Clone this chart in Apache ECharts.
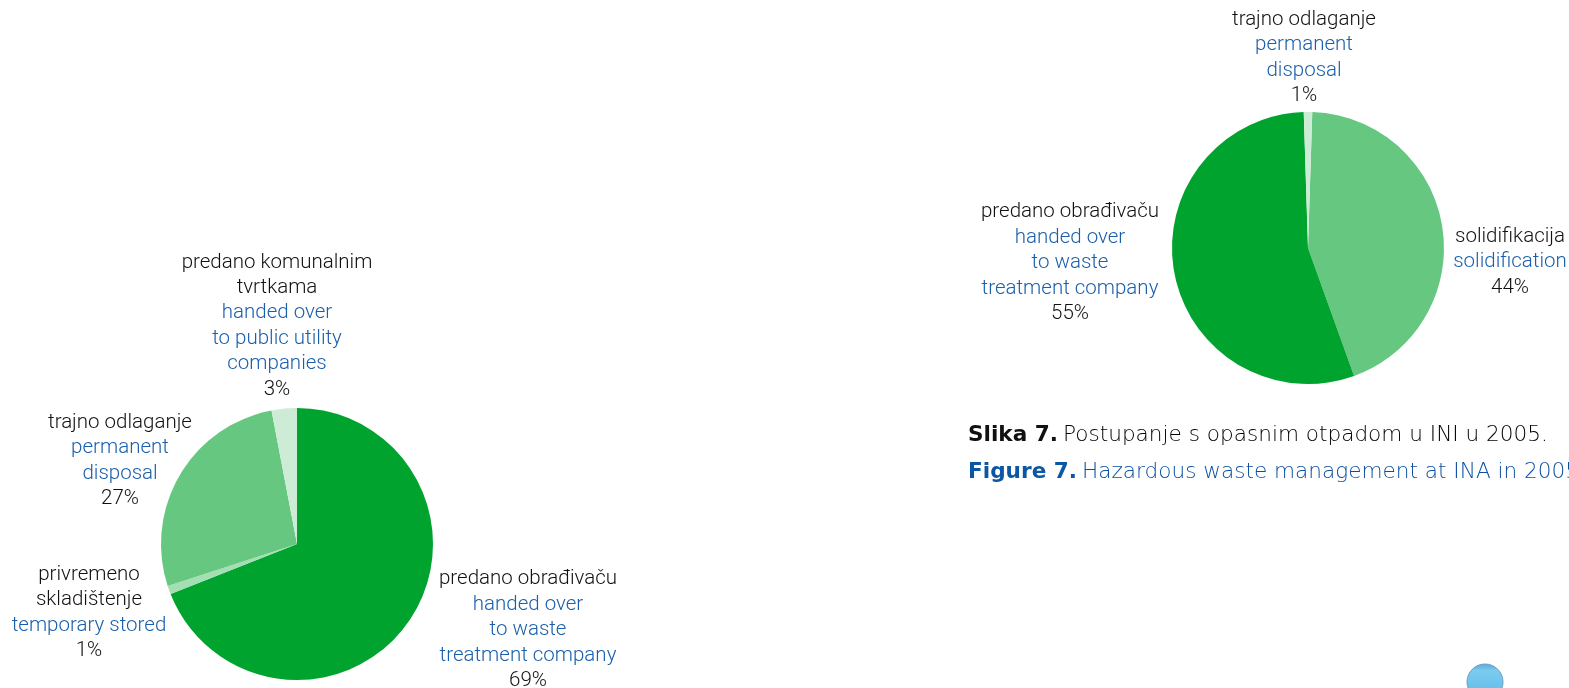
<!DOCTYPE html>
<html>
<head>
<meta charset="utf-8">
<title>Slika 7</title>
<script src="https://cdn.jsdelivr.net/npm/echarts@6/dist/echarts.min.js"></script>
<style>
html,body{margin:0;padding:0;background:#fff;overflow:hidden}
#main{width:1569px;height:688px}
</style>
</head>
<body>
<div id="main"></div>
<script>
// left pie
const leftHr = [['predano obrađivaču'], ['privremeno', 'skladištenje'], ['trajno odlaganje'], ['predano komunalnim', 'tvrtkama']]
const leftEn = [['handed over', 'to waste', 'treatment company'], ['temporary stored'], ['permanent', 'disposal'], ['handed over', 'to public utility', 'companies']]
const leftValues = [69, 1, 27, 3]
// right pie
const rightHr = [['solidifikacija'], ['predano obrađivaču'], ['trajno odlaganje']]
const rightEn = [['solidification'], ['handed over', 'to waste', 'treatment company'], ['permanent', 'disposal']]
const rightValues = [44, 55, 1]

const captionHr = ['Slika 7.', 'Postupanje s opasnim otpadom u INI u 2005.']
const captionEn = ['Figure 7.', 'Hazardous waste management at INA in 2005.']

const fontName = 'Roboto'
const capFont = 'DejaVu Sans'
const leftColors = ['#00a32e', '#a3dfb3', '#66c880', '#ccecd6']
const rightColors = ['#66c880', '#00a32e', '#ccecd6']
// label centres on the page
const leftLabelPos = [[528, 629], [89, 612], [120, 460], [277, 325]]
const rightLabelPos = [[1510, 261], [1070, 262], [1304, 57]]

function makeData(hr, en, values, colors) {
    return values.map((v, i) => ({
        value: v,
        name: hr[i].join(' '),
        itemStyle: { color: colors[i] },
        label: {
            formatter: [
                ...hr[i].map(t => `{hr|${t}}`),
                ...en[i].map(t => `{en|${t}}`),
                `{hr|${v}%}`
            ].join('\n')
        }
    }))
}

function makePie(center, startAngle, data, pos) {
    return {
        type: 'pie',
        center: center,
        radius: [0, 136],
        startAngle: startAngle,
        clockwise: true,
        silent: true,
        animation: false,
        avoidLabelOverlap: false,
        label: {
            show: true,
            position: 'outside',
            align: 'center',
            rich: {
                hr: { fontFamily: fontName, fontWeight: 300, fontSize: 20.5, lineHeight: 25.4, color: '#111', align: 'center' },
                en: { fontFamily: fontName, fontWeight: 300, fontSize: 20.5, lineHeight: 25.4, color: '#1a5fab', align: 'center' }
            }
        },
        labelLine: { show: false },
        labelLayout: (p) => ({
            x: pos[p.dataIndex][0],
            y: pos[p.dataIndex][1] + 1,
            align: 'center',
            verticalAlign: 'middle'
        }),
        data: data
    }
}

let myChart = echarts.init(document.getElementById('main'))
let option = {
    backgroundColor: '#fff',
    title: [
        {
            left: 963, top: 419,
            text: `{b|${captionHr[0]}} {n|${captionHr[1]}}`,
            textStyle: { rich: {
                b: { fontFamily: capFont, fontWeight: 700, fontSize: 21.6, color: '#111' },
                n: { fontFamily: capFont, fontWeight: 200, fontSize: 21.6, color: '#000' }
            } }
        },
        {
            left: 963, top: 456,
            text: `{b|${captionEn[0]}} {n|${captionEn[1]}}`,
            textStyle: { rich: {
                b: { fontFamily: capFont, fontWeight: 700, fontSize: 21.6, color: '#0b57a4' },
                n: { fontFamily: capFont, fontWeight: 200, fontSize: 21.6, color: '#0b50a0' }
            } }
        }
    ],
    graphic: [{
        type: 'circle',
        shape: { cx: 1485, cy: 682, r: 18 },
        silent: true,
        style: {
            stroke: '#6f9fbd',
            lineWidth: 1,
            fill: new echarts.graphic.LinearGradient(0, 0, 0, 1, [
                { offset: 0, color: '#5aa8d6' },
                { offset: 0.2, color: '#7ccbf0' },
                { offset: 1, color: '#5ab8ea' }
            ])
        }
    }],
    series: [
        makePie([297, 544], 90, makeData(leftHr, leftEn, leftValues, leftColors), leftLabelPos),
        makePie([1308, 248], 88.2, makeData(rightHr, rightEn, rightValues, rightColors), rightLabelPos)
    ]
}
myChart.setOption(option)
</script>
</body>
</html>
